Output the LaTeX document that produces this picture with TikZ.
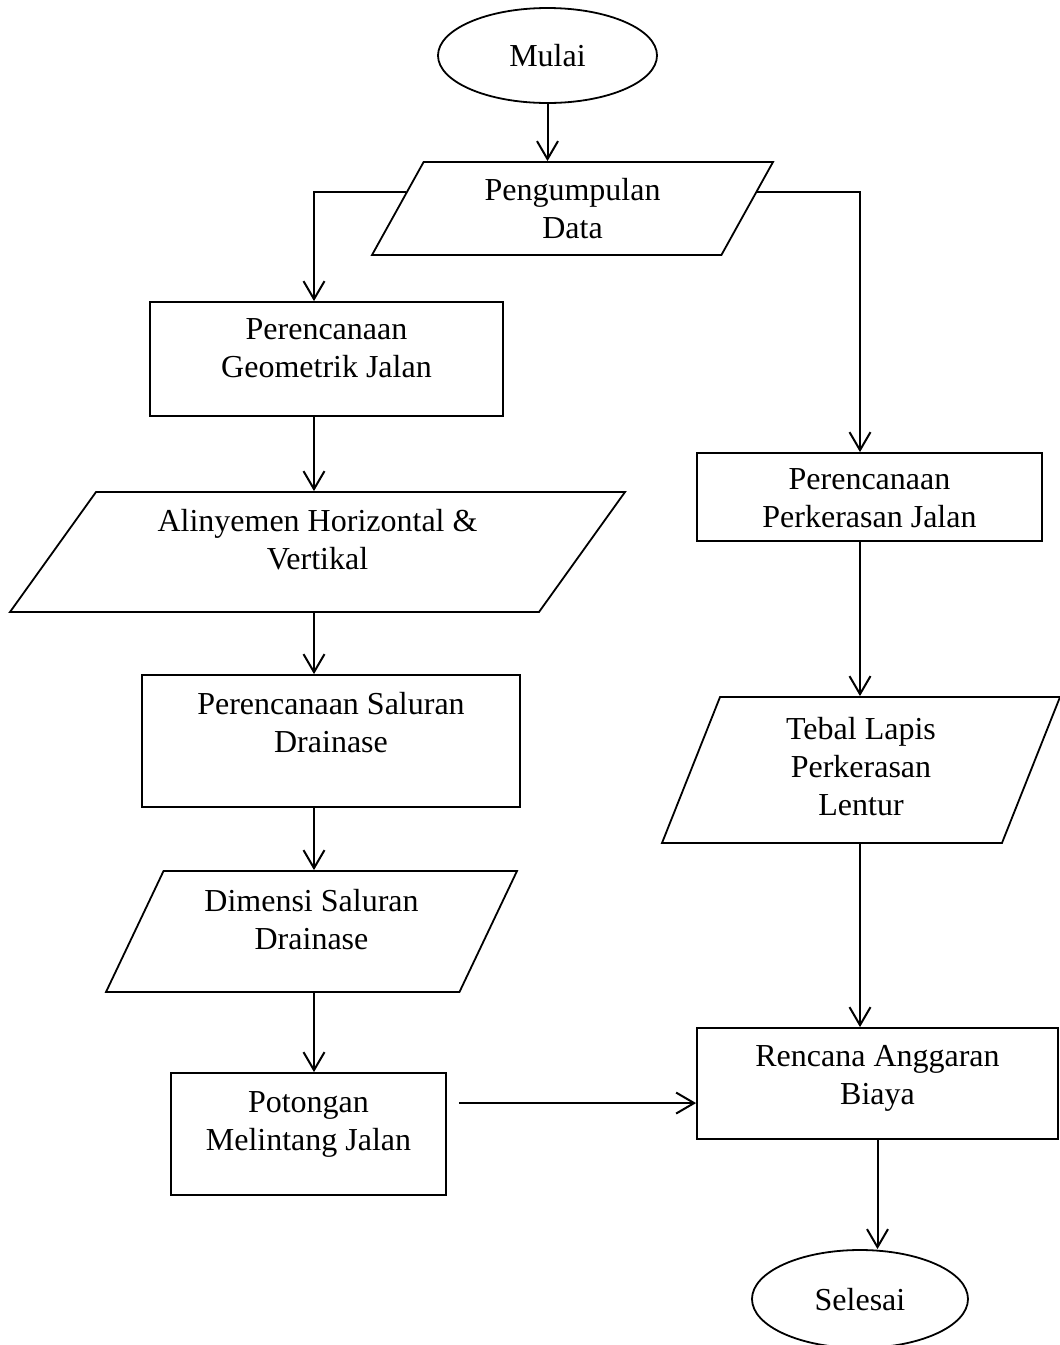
\documentclass[tikz,border=0pt]{standalone}
\usepackage{fontspec}
\setmainfont{Liberation Serif}
\usetikzlibrary{positioning,calc,shapes.geometric,arrows.meta}

\begin{document}
\begin{tikzpicture}[
    x=1pt,y=-1pt,
    font=\fontsize{32}{38}\selectfont,
    terminal/.style={ellipse,draw,line width=1.8pt,inner sep=0pt,text height=22pt,text depth=0pt},
    process/.style={rectangle,draw,line width=1.8pt,inner sep=0pt,align=center,text height=60pt},
    dataio/.style={trapezium,draw,line width=1.8pt,inner sep=0pt,align=center,text height=60pt,
      trapezium stretches body},
    flow/.style={-{Straight Barb[length=18pt,width=21pt]},line width=2pt}
  ]
    \useasboundingbox (0,0) rectangle (1060,1345);
    % Column lines
    \coordinate (colL) at (314,0);
    \coordinate (colR) at (860,0);
    % Start and input
    \node[terminal,minimum width=219pt,minimum height=95pt] (mulai) at (547.5,55.5) {Mulai};
    \node[dataio,trapezium left angle=49.3,trapezium right angle=130.7,
      minimum width=401pt,minimum height=93pt,text depth=-1pt] (data) at (572.5,208.5) {Pengumpulan\\Data};
    % Left branch
    \node[process,minimum width=353pt,minimum height=114pt,text depth=24pt] (geo) at (326.5,359) {Perencanaan\\Geometrik Jalan};
    \node[dataio,trapezium left angle=45,trapezium right angle=135,
      minimum width=615pt,minimum height=120pt,text depth=26pt] (alin) at (317.5,552) {Alinyemen Horizontal \&\\Vertikal};
    \node[process,minimum width=378pt,minimum height=132pt,text depth=38pt] (sal) at (331,741) {Perencanaan Saluran\\Drainase};
    \node[dataio,trapezium left angle=55.9,trapezium right angle=124.1,
      minimum width=411pt,minimum height=121pt,text depth=25pt] (dim) at (311.5,931.5) {Dimensi Saluran\\Drainase};
    \node[process,minimum width=275pt,minimum height=122pt,text depth=28pt] (pot) at (308.5,1134) {Potongan\\Melintang Jalan};
    % Right branch
    \node[process,minimum width=345pt,minimum height=88pt,text depth=-6pt] (perk) at (869.5,497) {Perencanaan\\Perkerasan Jalan};
    \node[dataio,trapezium left angle=61.3,trapezium right angle=118.7,
      minimum width=398pt,minimum height=146pt,text height=98pt,text depth=8pt] (tebal) at (861,770) {Tebal Lapis\\Perkerasan\\Lentur};
    \node[process,minimum width=361pt,minimum height=111pt,text depth=19pt] (rab) at (877.5,1083.5) {Rencana Anggaran\\Biaya};
    \node[terminal,minimum width=216pt,minimum height=98pt] (selesai) at (860,1299) {Selesai};
    % Connectors
    \coordinate (dl) at ($(data.top left corner)!0.33!(data.bottom left corner)$);
    \coordinate (dr) at ($(data.top right corner)!0.33!(data.bottom right corner)$);
    \coordinate (pout) at ($(pot.north east)!0.25!(pot.south east)+(12,0)$);
    \draw[flow] (mulai.south) -- (mulai.south |- data.north);
    \draw[flow] (dl) -| (geo.north -| colL);
    \draw[flow] (dr) -| (perk.north -| colR);
    \draw[flow] (geo.south -| colL) -- (alin.north -| colL);
    \draw[flow] (alin.south -| colL) -- (sal.north -| colL);
    \draw[flow] (sal.south -| colL) -- (dim.north -| colL);
    \draw[flow] (dim.south -| colL) -- (pot.north -| colL);
    \draw[flow] (perk.south -| colR) -- (tebal.north -| colR);
    \draw[flow] (tebal.south -| colR) -- (rab.north -| colR);
    \draw[flow] (pout) -- (pout -| rab.west);
    \draw[flow] (rab.south) -- (selesai.north -| rab.south);
\end{tikzpicture}
\end{document}
